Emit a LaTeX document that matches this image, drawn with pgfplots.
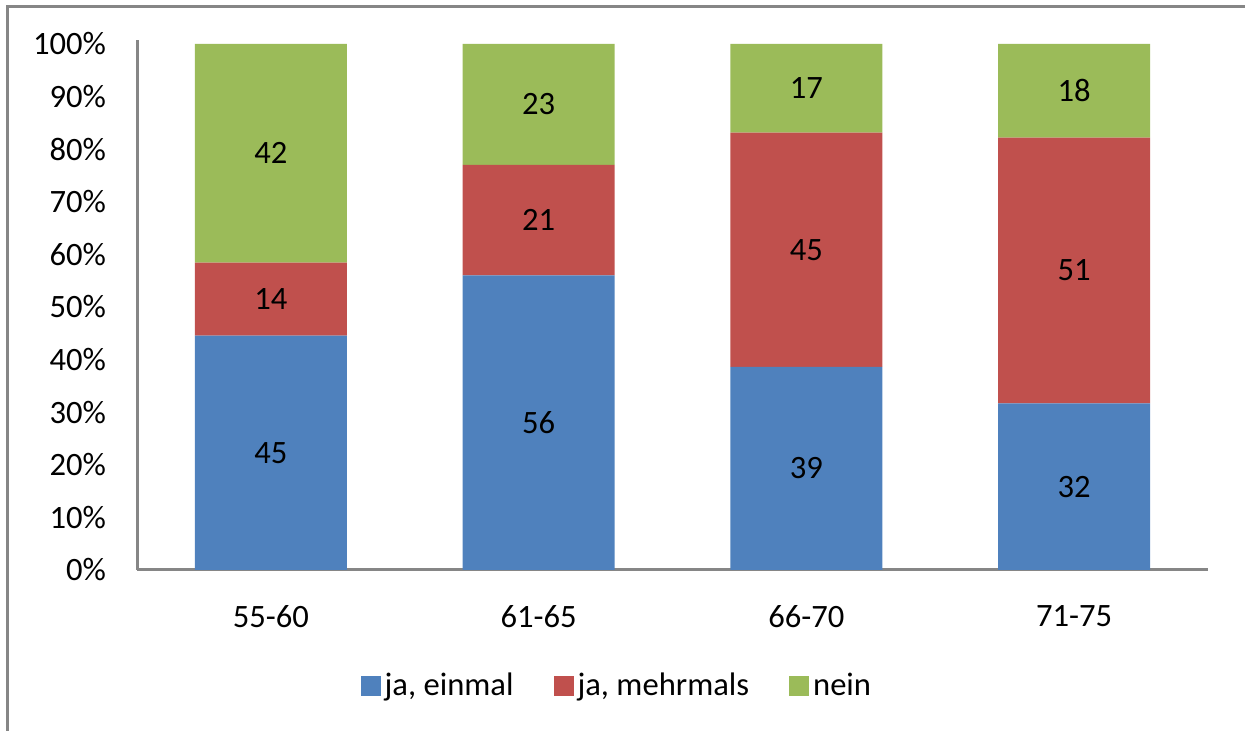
\documentclass[border=0pt]{standalone}
\usepackage{pgfplots}
\usepackage{pgfplotstable}
\pgfplotsset{compat=1.18}
\usepackage{fontspec}
\setmainfont{Carlito}
\definecolor{cblue}{HTML}{4F81BD}
\definecolor{cred}{HTML}{C0504D}
\definecolor{cgreen}{HTML}{9BBB59}
\definecolor{axgray}{HTML}{868686}
\pgfplotstableread{
x y lab
0 44.554 45
1 56 56
2 38.614 39
3 31.683 32
}\tblue
\pgfplotstableread{
x y lab
0 13.861 14
1 21 21
2 44.554 45
3 50.495 51
}\tred
\pgfplotstableread{
x y lab
0 41.584 42
1 23 23
2 16.832 17
3 17.822 18
}\tgreen
\begin{document}
\begin{tikzpicture}
\path[use as bounding box] (-68.5pt,-80.5pt) rectangle (554pt,285pt);
\begin{axis}[
  at={(0,0)}, anchor=south west,
  scale only axis, width=535.5pt, height=265pt,
  ybar stacked, bar width=76pt,
  xmin=-0.5, xmax=3.5, ymin=0, ymax=100.76,
  xtick={0,1,2,3}, xticklabels={55-60,61-65,66-70,71-75},
  ytick={0,10,...,100},
  yticklabel={\pgfmathprintnumber{\tick}\%},
  /pgf/number format/assume math mode=true,
  major tick length=0pt,
  axis x line=bottom, axis y line=left,
  axis line style={-, draw=axgray, line width=1.5pt},
  tick label style={font=\fontsize{16.3}{19}\selectfont},
  yticklabel style={xshift=-12pt},
  xticklabel style={yshift=-14pt},
  nodes near coords,
  point meta=explicit symbolic,
  every node near coord/.append style={anchor=center, font=\fontsize{16.3}{19}\selectfont, text=black},
  legend style={at={(0.449,-0.219)}, anchor=center, draw=none, legend columns=3,
    font=\fontsize{16.3}{19}\selectfont, /tikz/every even column/.append style={column sep=18pt}},
  legend image code/.code={\fill[#1] (0pt,-5pt) rectangle (10pt,5pt);},
]
\addplot[fill=cblue, draw=none] table[x=x, y=y, meta=lab] {\tblue};
\addlegendentry{ja, einmal}
\addplot[fill=cred, draw=none] table[x=x, y=y, meta=lab] {\tred};
\addlegendentry{ja, mehrmals}
\addplot[fill=cgreen, draw=none] table[x=x, y=y, meta=lab] {\tgreen};
\addlegendentry{nein}
\end{axis}
\draw[axgray, line width=1.5pt] (-64.5pt,-90pt) -- (-64.5pt,281.5pt) -- (560pt,281.5pt);
\end{tikzpicture}
\end{document}
